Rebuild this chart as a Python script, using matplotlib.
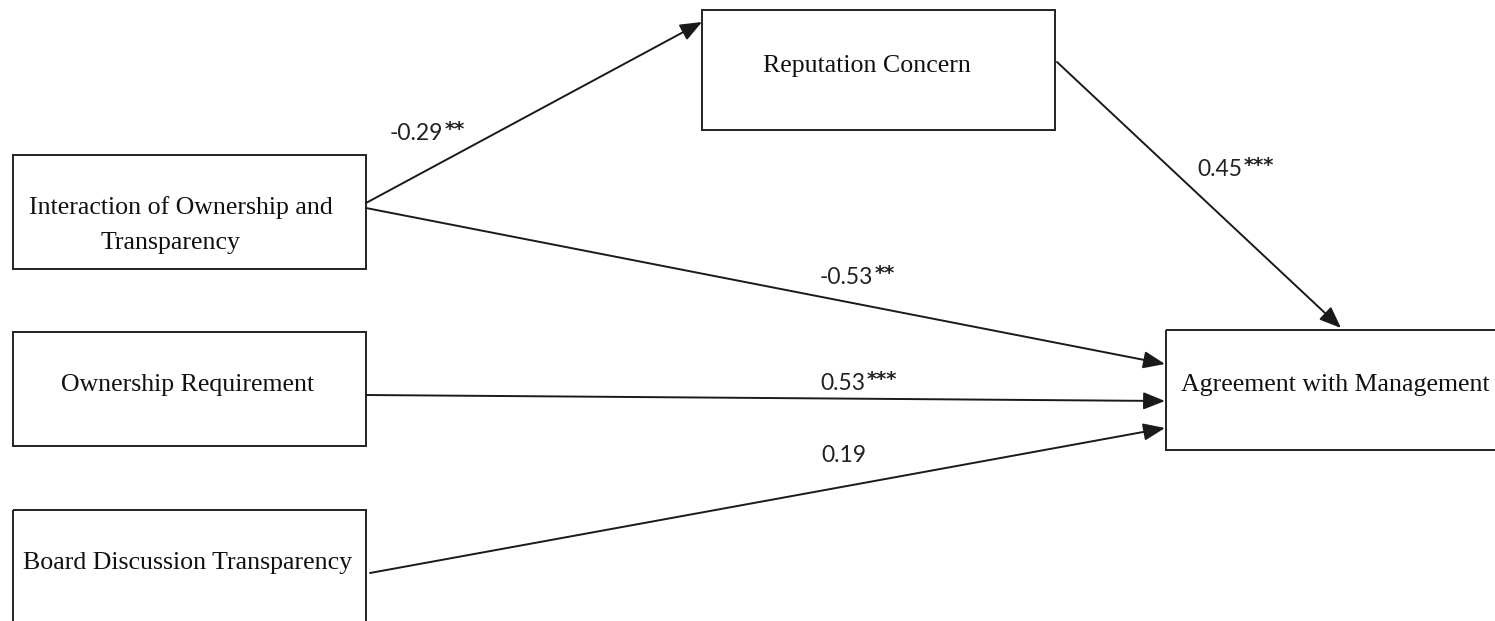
import matplotlib
matplotlib.use("Agg")
import matplotlib.pyplot as plt
from matplotlib.patches import Rectangle, FancyArrowPatch

# ---- data ----
node_names = ["Reputation Concern",
              "Interaction of Ownership and\nTransparency",
              "Ownership Requirement",
              "Board Discussion Transparency",
              "Agreement with Management"]
path_from = [1, 0, 1, 2, 3]
path_to = [0, 4, 4, 4, 4]
path_coefs = ["-0.29", "0.45", "-0.53", "0.53", "0.19"]
path_stars = ["**", "***", "**", "***", ""]

# ---- layout (pixel coordinates) ----
W, H = 1495, 621
boxes = [(702, 10, 353, 120), (13, 155, 353, 114), (13, 332, 353, 114),
         (13, 510, 353, 130), (1166, 330, 340, 120)]
# per-line text anchors: list of (x, y) for each line of each node
text_pos = [[(867, 66)], [(181, 208), (171, 243)], [(188, 385)],
            [(188, 563)], [(1181, 385)]]
text_ha = ['center', 'center', 'center', 'center', 'left']
arrow_pts = [((366, 203), (702, 22)), ((1057, 62), (1341, 328)),
             ((366, 208), (1165, 364)), ((366, 395), (1165, 401)),
             ((370, 573), (1165, 428))]
label_pos = [(390, 134), (1197, 170), (820, 278), (820, 383), (821, 455)]

fig = plt.figure(figsize=(W / 100, H / 100), dpi=100)
ax = fig.add_axes([0, 0, 1, 1])
ax.set_xlim(0, W)
ax.set_ylim(H, 0)
ax.axis('off')

serif = ['Liberation Serif', 'DejaVu Serif']
sans = ['Lato', 'Liberation Sans', 'DejaVu Sans']

for (x, y, w, h), name, pos, ha in zip(boxes, node_names, text_pos, text_ha):
    ax.add_patch(Rectangle((x, y), w, h, fill=False, edgecolor='#222222', lw=1.4))
    for line, (tx, ty) in zip(name.split('\n'), pos):
        ax.text(tx, ty, line, ha=ha, va='center', fontsize=18.6, family=serif,
                color='#111111')

for (p0, p1) in arrow_pts:
    ax.add_patch(FancyArrowPatch(p0, p1,
                                 arrowstyle='-|>,head_length=0.6,head_width=0.24',
                                 mutation_scale=22, lw=1.4, color='#1a1a1a',
                                 shrinkA=0, shrinkB=0))

fig.canvas.draw()
r = fig.canvas.get_renderer()
for (lx, ly), lab, st in zip(label_pos, path_coefs, path_stars):
    t = ax.text(lx, ly, lab, ha='left', va='center', fontsize=16.5, family=sans,
                color='#222222')
    if st:
        bb = t.get_window_extent(renderer=r)
        x_end = ax.transData.inverted().transform((bb.x1, bb.y0))[0]
        ax.text(x_end + 1.5, ly - 4, st, ha='left', va='center', fontsize=14,
                family=['DejaVu Sans'], fontweight='bold', color='#222222')

fig.savefig('out.png', dpi=100)
